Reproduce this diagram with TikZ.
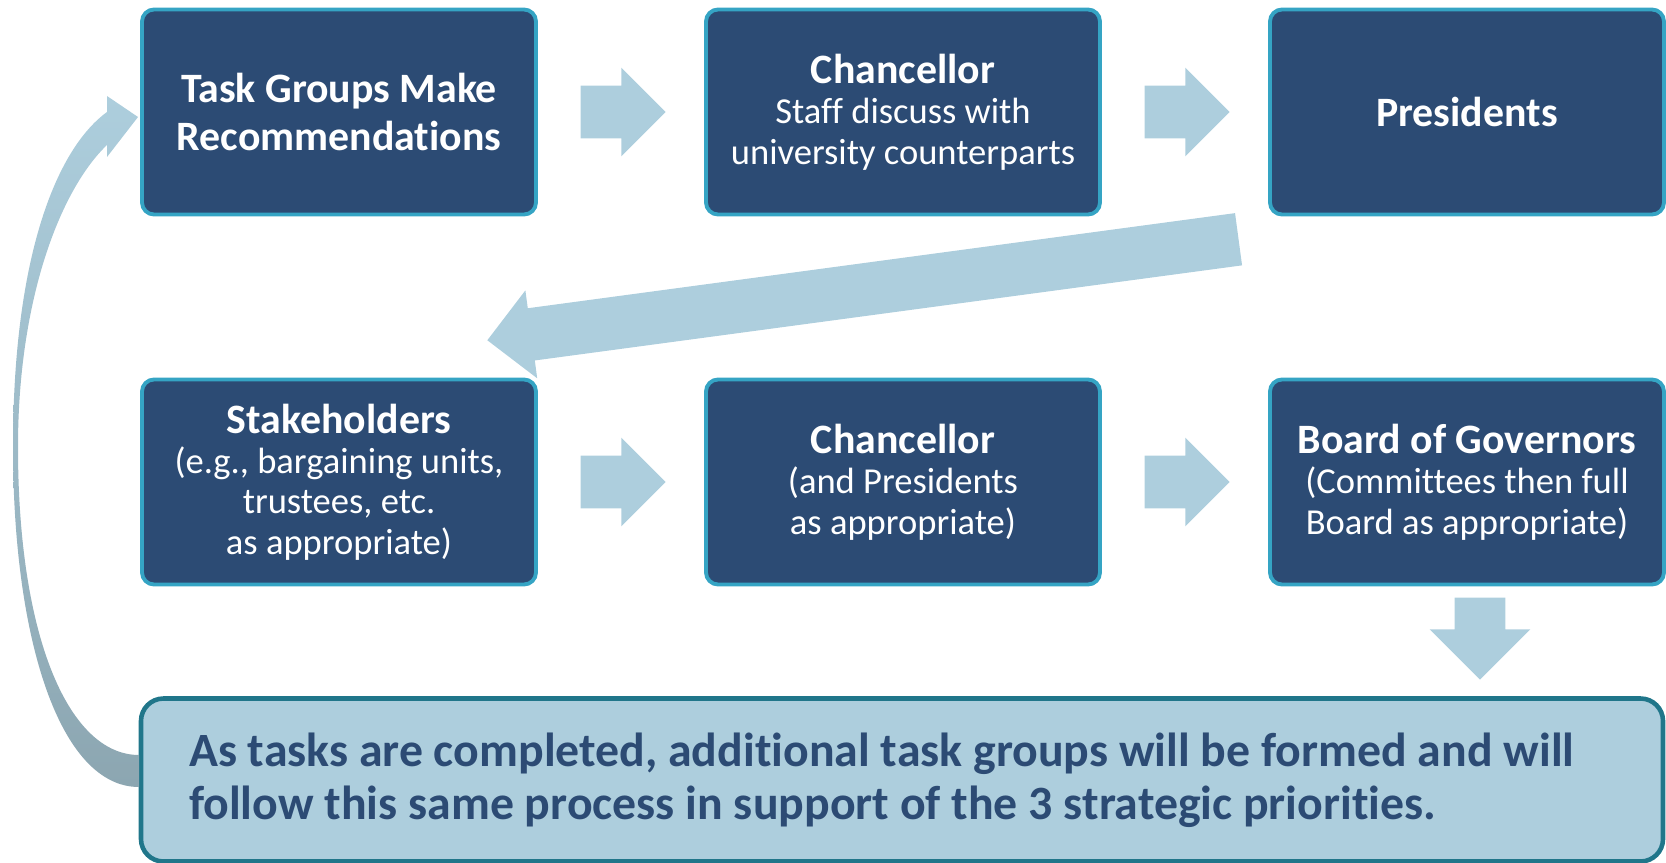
\documentclass[tikz,border=0pt]{standalone}
\usepackage{fontspec}
\setmainfont{Carlito}[Ligatures=NoCommon]
\usetikzlibrary{calc,positioning,shapes.arrows}

\definecolor{navy}{HTML}{2C4B74}
\definecolor{tealline}{HTML}{35A4C4}
\definecolor{paleblue}{HTML}{ADCEDD}
\definecolor{notebdr}{HTML}{20768A}
\definecolor{loopgray}{HTML}{8CA6B1}

\newcommand{\headfont}{\fontsize{23.8}{27.3}\selectfont\bfseries}
\newcommand{\bodyfont}{\fontsize{20.8}{23}\selectfont}
\newcommand{\notefont}{\fontsize{27.2}{30.2}\selectfont\bfseries}

\begin{document}
\begin{tikzpicture}[x=0.2mm,y=-0.2mm,
    stepbox/.style={draw=tealline,line width=2.2pt,fill=navy,rounded corners=0.24cm,
        minimum width=7.88cm,minimum height=4.1cm,inner sep=0pt,
        text=white,align=center,font=\bodyfont},
    blockarrow/.style={single arrow,fill=paleblue,draw=none,inner xsep=0pt,inner ysep=0.52cm,
        minimum height=1.7cm,single arrow head extend=0.36cm},
    notebox/.style={draw=notebdr,line width=2.6pt,fill=paleblue,rounded corners=0.45cm,
        minimum width=30.44cm,minimum height=3.26cm},
    notetext/.style={text=navy,align=left,font=\notefont,inner sep=0pt}]
    \useasboundingbox (0,0) rectangle (1666,863);

    \node[stepbox,font=\headfont] (task) at (339,112) {Task Groups Make\\Recommendations};
    \node[stepbox] (chan) at (903,112) {{\headfont Chancellor}\\Staff discuss with\\university counterparts};
    \node[stepbox,font=\headfont] (pres) at (1467,112) {Presidents};
    \node[stepbox] (stake) at (339,482) {{\headfont Stakeholders}\\(e.g., bargaining units,\\trustees, etc.\\as appropriate)};
    \node[stepbox] (chan2) at (903,482) {{\headfont Chancellor}\\(and Presidents\\as appropriate)};
    \node[stepbox] (board) at (1467,482) {{\headfont Board of Governors}\\(Committees then full\\Board as appropriate)};

    \node[notebox] (note) at (902,780) {};
    \node[notetext,anchor=west] (notetxt) at ($(note.west)+(50,0)$)
        {As tasks are completed, additional task groups will be formed and will\\follow this same process in support of the 3 strategic priorities.};

    \node[blockarrow] (ar1) at ($(task.east)!0.5!(chan.west)+(-11,0)$) {};
    \node[blockarrow] (ar2) at ($(chan.east)!0.5!(pres.west)+(-11,0)$) {};
    \node[blockarrow] (ar3) at ($(stake.east)!0.5!(chan2.west)+(-11,0)$) {};
    \node[blockarrow] (ar4) at ($(chan2.east)!0.5!(board.west)+(-11,0)$) {};
    \node[blockarrow,rotate=187.66,minimum height=15.16cm] (back) at (876,288) {};
    \node[blockarrow,rotate=-90,inner ysep=0.5cm,minimum height=1.64cm,
        single arrow head extend=0.5cm] (down) at (1480,626) {};

    % loop back from the note to the first step
    \shade[top color=paleblue,bottom color=loopgray]
        (139,787) .. controls (60,787) and (13,640) .. (13,447)
        .. controls (13,260) and (55,150) .. (107,112)
        -- (107,96) -- (138,117) -- (107,157) -- (107,145)
        .. controls (60,190) and (18,300) .. (18,447)
        .. controls (18,640) and (70,755) .. (139,755) -- cycle;
\end{tikzpicture}
\end{document}
